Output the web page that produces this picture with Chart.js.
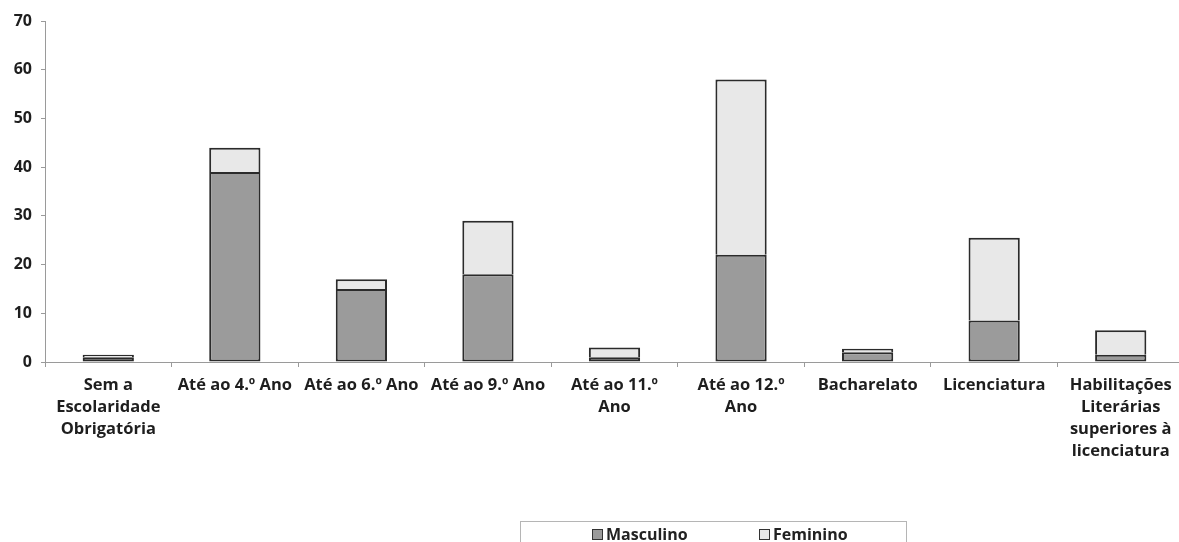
<!DOCTYPE html>
<html>
<head>
<meta charset="utf-8">
<script src="https://cdn.jsdelivr.net/npm/chart.js@4"></script>
<style>
  html, body { margin: 0; padding: 0; background: #fff; overflow: hidden; }
  #wrap { position: relative; width: 1179px; height: 542px; overflow: hidden; }
  #box { position: absolute; left: 0; top: 0; width: 1190px; height: 542px; }
  #legend {
    position: absolute; left: 520px; top: 521px; width: 387px; height: 26px;
    border: 1px solid #b5b5b5; box-sizing: border-box;
    font: bold 16px "Open Sans", Lato, sans-serif; color: #222;
  }
  #legend .item { position: absolute; top: 1px; display: flex; align-items: center; line-height: 22px; }
  #legend .sw { width: 9px; height: 9px; border: 1.5px solid #333; margin-right: 3px; }
</style>
</head>
<body>
<div id="wrap">
  <div id="box"><canvas id="c"></canvas></div>
  <div id="legend"></div>
</div>
<script>
const categories = [
  ["Sem a", "Escolaridade", "Obrigatória"],
  "Até ao 4.º Ano",
  "Até ao 6.º Ano",
  "Até ao 9.º Ano",
  ["Até ao 11.º", "Ano"],
  ["Até ao 12.º", "Ano"],
  "Bacharelato",
  "Licenciatura",
  ["Habilitações", "Literárias", "superiores à", "licenciatura"]
];
const masculino = [1, 39, 15, 18, 1, 22, 2, 8.5, 1.5];
const feminino  = [0.5, 5, 2, 11, 2, 36, 0.7, 17, 5];
const seriesNames = ["Masculino", "Feminino"];
const yTicks = [0, 10, 20, 30, 40, 50, 60, 70];

const font = "'Open Sans', Lato, sans-serif";

const chart = new Chart(document.getElementById('c'), {
  type: 'bar',
  data: {
    labels: categories,
    datasets: [
      { label: seriesNames[0], data: masculino, backgroundColor: '#9b9b9b',
        borderColor: '#2b2b2b', borderSkipped: false,
        borderWidth: { top: 2, left: 2, right: 2, bottom: 2 } },
      { label: seriesNames[1], data: feminino, backgroundColor: '#e8e8e8',
        borderColor: '#2b2b2b', borderSkipped: false,
        borderWidth: { top: 2, left: 2, right: 2, bottom: 0 } }
    ]
  },
  options: {
    responsive: true,
    maintainAspectRatio: false,
    animation: false,
    datasets: { bar: { categoryPercentage: 1, barPercentage: 0.405 } },
    layout: { padding: { top: 21, right: 6, left: 0, bottom: 70 } },
    plugins: {
      legend: { display: false },
      tooltip: { enabled: false },
      title: { display: false }
    },
    scales: {
      x: {
        stacked: true,
        offset: true,
        grid: { display: true, drawOnChartArea: false, drawTicks: true, tickLength: 5,
                color: '#9a9a9a', offset: true },
        border: { display: true, color: '#9a9a9a', width: 1 },
        ticks: {
          color: '#1e1e1e', padding: 7, maxRotation: 0, autoSkip: false,
          font: { family: font, size: 16.5, weight: 'bold', lineHeight: 1.33 }
        },
        afterFit(s) { s.height = 110; }
      },
      y: {
        stacked: true,
        min: 0, max: 70,
        afterBuildTicks(s) { s.ticks = yTicks.map(v => ({ value: v })); },
        grid: { display: true, drawOnChartArea: false, drawTicks: true, tickLength: 4,
                color: '#9a9a9a' },
        border: { display: true, color: '#9a9a9a', width: 1 },
        ticks: {
          color: '#1e1e1e', padding: 9,
          font: { family: font, size: 16, weight: 'bold' }
        },
        afterFit(s) { s.width = 45; }
      }
    }
  }
});

// Legend built from the chart's own datasets
const legendEl = document.getElementById('legend');
const lefts = [71, 238];
chart.data.datasets.forEach((ds, i) => {
  const item = document.createElement('div');
  item.className = 'item';
  item.style.left = lefts[i] + 'px';
  const sw = document.createElement('span');
  sw.className = 'sw';
  sw.style.background = ds.backgroundColor;
  const tx = document.createElement('span');
  tx.textContent = ds.label;
  item.appendChild(sw);
  item.appendChild(tx);
  legendEl.appendChild(item);
});
</script>
</body>
</html>
